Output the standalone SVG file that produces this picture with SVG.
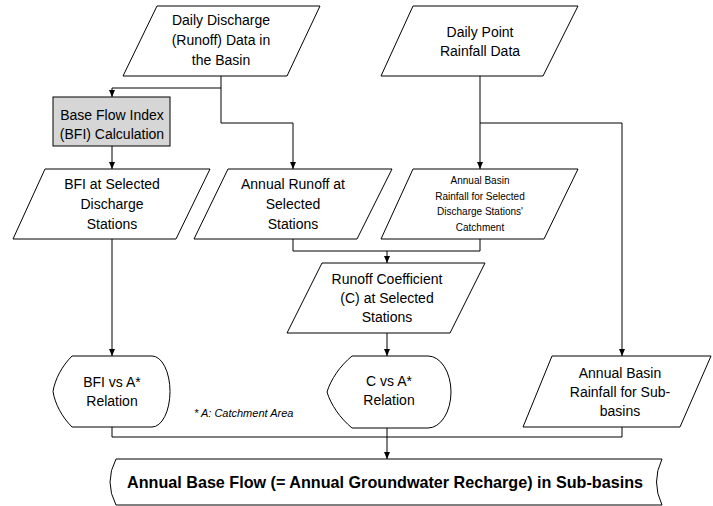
<svg xmlns="http://www.w3.org/2000/svg" width="713" height="506" viewBox="0 0 713 506">
<style>
.s{fill:#fff;stroke:#000;stroke-width:1}
.g{fill:#d6d6d6;stroke:#000;stroke-width:1}
text{font-family:"Liberation Sans",Arial,sans-serif;font-size:14px;fill:#000;text-anchor:middle}
.sm{font-size:10px}
.note{font-size:11px;font-style:italic;text-anchor:start}
.big{font-size:17px;font-weight:bold}
.c{fill:none;stroke:#000;stroke-width:1}
</style>
<defs>
<marker id="ah" markerWidth="7" markerHeight="6" refX="7" refY="3" orient="auto" markerUnits="userSpaceOnUse">
<path d="M0,0 L7,3 L0,6 Z" fill="#000"/>
</marker>
</defs>
<rect width="713" height="506" fill="#fff"/>
<g id="connectors">
<path class="c" d="M221,76 V123 H293 V169" marker-end="url(#ah)"/>
<path class="c" d="M221,88 H112 V97" marker-end="url(#ah)"/>
<path class="c" d="M112,146 V169" marker-end="url(#ah)"/>
<path class="c" d="M480,76 V169" marker-end="url(#ah)"/>
<path class="c" d="M480,123 H622 V356" marker-end="url(#ah)"/>
<path class="c" d="M293,239 V251 H480 V239"/>
<path class="c" d="M387,251 V263" marker-end="url(#ah)"/>
<path class="c" d="M387,333 V356" marker-end="url(#ah)"/>
<path class="c" d="M112,239 V356" marker-end="url(#ah)"/>
<path class="c" d="M112,427 V437 H622 V427"/>
<path class="c" d="M387,428 V459" marker-end="url(#ah)"/>
</g>
<g id="daily-discharge">
<path class="s" d="M157,6 H320 L287,76 H123 Z"/>
<text x="221" y="25">Daily Discharge</text>
<text x="221" y="45">(Runoff) Data in</text>
<text x="221" y="65">the Basin</text>
</g>
<g id="daily-rainfall">
<path class="s" d="M413,6 H578 L543,76 H381 Z"/>
<text x="480" y="37">Daily Point</text>
<text x="480" y="56">Rainfall Data</text>
</g>
<g id="bfi-calc">
<rect class="g" x="53" y="97" width="117" height="49"/>
<text x="112" y="120">Base Flow Index</text>
<text x="112" y="139">(BFI) Calculation</text>
</g>
<g id="bfi-selected">
<path class="s" d="M45,169 H210 L176,239 H13 Z"/>
<text x="112" y="189">BFI at Selected</text>
<text x="112" y="209">Discharge</text>
<text x="112" y="229">Stations</text>
</g>
<g id="annual-runoff">
<path class="s" d="M228,169 H392 L357,239 H194 Z"/>
<text x="293" y="189">Annual Runoff at</text>
<text x="293" y="209">Selected</text>
<text x="293" y="229">Stations</text>
</g>
<g id="annual-rainfall-selected">
<path class="s" d="M413,169 H578 L544,239 H381 Z"/>
<text class="sm" x="480" y="184">Annual Basin</text>
<text class="sm" x="480" y="199.5">Rainfall for Selected</text>
<text class="sm" x="480" y="215">Discharge Stations'</text>
<text class="sm" x="480" y="230.5">Catchment</text>
</g>
<g id="runoff-coefficient">
<path class="s" d="M322,263 H485 L450,333 H287 Z"/>
<text x="387" y="284">Runoff Coefficient</text>
<text x="387" y="303">(C) at Selected</text>
<text x="387" y="322">Stations</text>
</g>
<g id="bfi-vs-a">
<path class="s" d="M72,356 H152 A18,35.5 0 0 1 152,427 H72 C62,417 55,404 53,391.5 C55,379 62,366 72,356 Z"/>
<text x="112" y="387">BFI vs A*</text>
<text x="112" y="406">Relation</text>
</g>
<g id="c-vs-a">
<path class="s" d="M352,356 H428 A23,36 0 0 1 428,428 H352 C340,418 331,405 327,392 C331,379 340,366 352,356 Z"/>
<text x="389" y="386">C vs A*</text>
<text x="389" y="405">Relation</text>
</g>
<g id="annual-rainfall-subbasins">
<path class="s" d="M552,356 H711 L680,427 H523 Z"/>
<text x="620" y="378">Annual Basin</text>
<text x="620" y="397">Rainfall for Sub-</text>
<text x="620" y="416">basins</text>
</g>
<g id="note">
<text class="note" x="194" y="417">* A: Catchment Area</text>
</g>
<g id="annual-base-flow">
<path class="s" d="M116,459 H662 Q651,482 662,505 H116 Q104,482 116,459 Z"/>
<text class="big" x="385" y="488" textLength="516" lengthAdjust="spacingAndGlyphs">Annual Base Flow (= Annual Groundwater Recharge) in Sub-basins</text>
</g>
</svg>
